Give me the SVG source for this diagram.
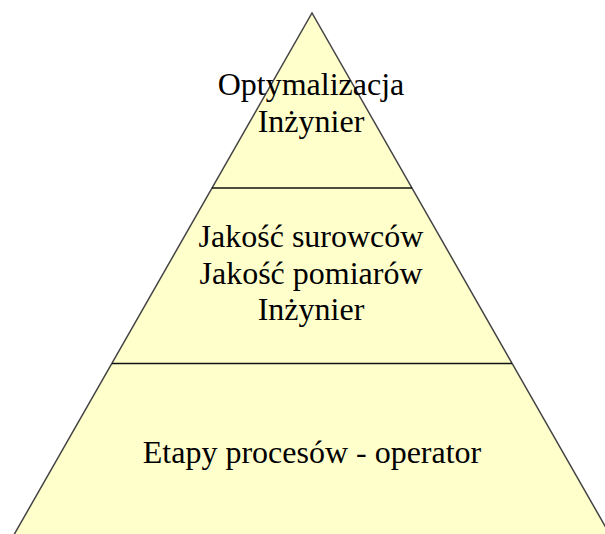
<svg xmlns="http://www.w3.org/2000/svg" width="605" height="534" viewBox="0 0 605 534">
  <style>
    .tier { fill: #FFFFCC; stroke: none; }
    .edge { fill: none; stroke: #444; stroke-width: 1.5; }
    .divider { stroke: #111; stroke-width: 1.5; }
    .label { font-family: "Liberation Serif", "Times New Roman", serif; font-size: 32px; fill: #000; text-anchor: middle; }
  </style>
  <rect width="605" height="534" fill="#FFFFFF"/>
  <!-- pyramid body -->
  <g id="pyramid">
    <polygon class="tier" points="312,13 -1,561 625,561"/>
    <polyline class="edge" points="-1,561 312,13 625,561"/>
  </g>
  <g id="dividers">
    <line class="divider" x1="212" y1="188" x2="412" y2="188"/>
    <line class="divider" x1="112" y1="363.5" x2="512" y2="363.5"/>
  </g>
  <g id="tier-top">
    <text class="label" x="311" y="95">Optymalizacja</text>
    <text class="label" x="311" y="132">Inżynier</text>
  </g>
  <g id="tier-middle">
    <text class="label" x="311" y="247">Jakość surowców</text>
    <text class="label" x="311" y="283.5">Jakość pomiarów</text>
    <text class="label" x="311" y="320">Inżynier</text>
  </g>
  <g id="tier-bottom">
    <text class="label" x="312" y="463">Etapy procesów - operator</text>
  </g>
</svg>
